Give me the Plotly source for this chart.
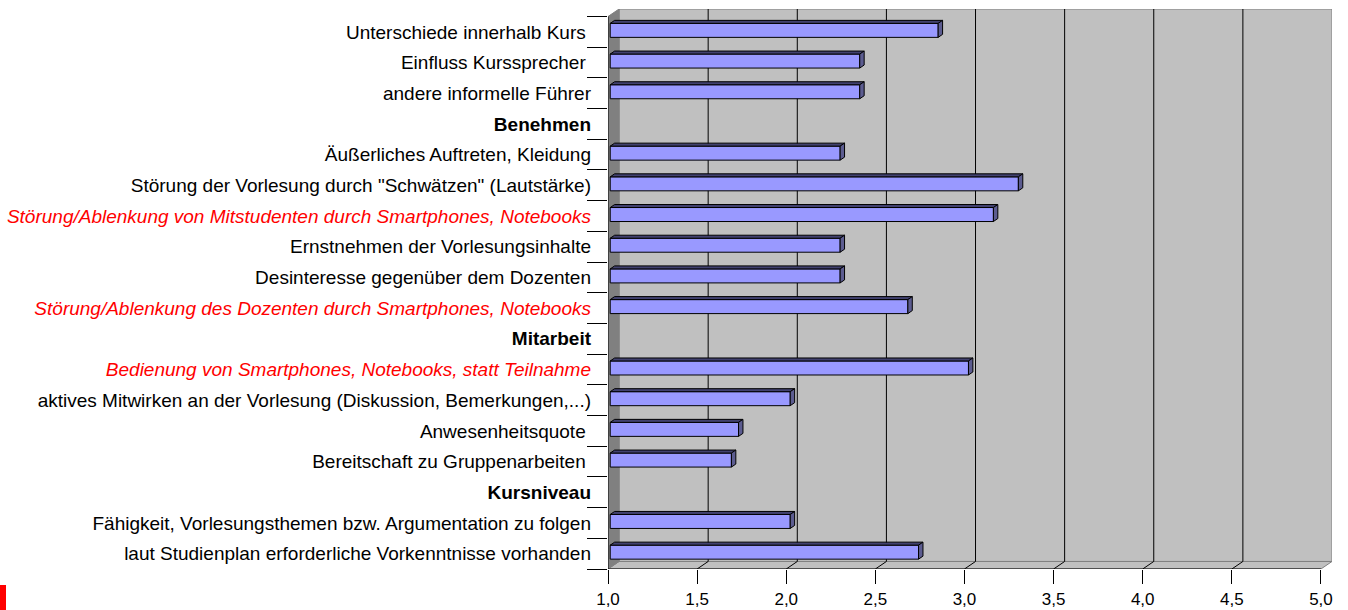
import plotly.graph_objects as go

# Category labels, top to bottom (section headings have no value)
categories = [
    "Unterschiede innerhalb Kurs\u00a0",
    "Einfluss Kurssprecher\u00a0",
    "andere informelle Führer",
    "Benehmen",
    "Äußerliches Auftreten, Kleidung",
    'Störung der Vorlesung durch "Schwätzen" (Lautstärke)',
    "Störung/Ablenkung von Mitstudenten durch Smartphones, Notebooks",
    "Ernstnehmen der Vorlesungsinhalte",
    "Desinteresse gegenüber dem Dozenten",
    "Störung/Ablenkung des Dozenten durch Smartphones, Notebooks",
    "Mitarbeit",
    "Bedienung von Smartphones, Notebooks, statt Teilnahme",
    "aktives Mitwirken an der Vorlesung (Diskussion, Bemerkungen,...)",
    "Anwesenheitsquote\u00a0",
    "Bereitschaft zu Gruppenarbeiten\u00a0",
    "Kursniveau",
    "Fähigkeit, Vorlesungsthemen bzw. Argumentation zu folgen",
    "laut Studienplan erforderliche Vorkenntnisse vorhanden",
]

# Mean rating per item (None for section headings)
values = [2.84, 2.40, 2.40, None, 2.29, 3.29, 3.15, 2.29, 2.29, 2.67,
          None, 3.01, 2.01, 1.72, 1.68, None, 2.01, 2.73]

# Label styling: "n" normal, "h" section heading, "r" highlighted item
label_kind = ["n", "n", "n", "h", "n", "n", "r", "n", "n", "r",
              "h", "r", "n", "n", "n", "h", "n", "n"]

x_ticks = [1.0, 1.5, 2.0, 2.5, 3.0, 3.5, 4.0, 4.5, 5.0]
x_ticktext = ["1,0", "1,5", "2,0", "2,5", "3,0", "3,5", "4,0", "4,5", "5,0"]

X_MIN, X_MAX = 1.0, 5.0
n = len(categories)
rows = [n - 1 - i for i in range(n)]          # top item gets highest row

# 3D depth offsets of the back wall, in axis units
DX = 0.062
DY = 0.245
BAR_F, BAR_B = 0.2, 0.6                        # bar front/back depth fractions
BAR_W = 0.456

FRONT = "#9999FF"
TOP = "#41416F"
SIDE = "#5C5C90"
WALL = "#C0C0C0"
SIDEWALL = "#808080"
EDGE = "#808080"


def fmt_label(text, kind):
    if kind == "h":
        return "<b>" + text + "</b>"
    if kind == "r":
        return "<i><span style='color:#FF0000'>" + text + "</span></i>"
    return text


ticktext = [fmt_label(c, k) for c, k in zip(categories, label_kind)]

y_lo, y_hi = -0.5, n - 0.5

shapes = []
# back wall
shapes.append(dict(type="rect", xref="x", yref="y", layer="below",
                   x0=X_MIN + DX, x1=X_MAX + DX, y0=y_lo + DY, y1=y_hi + DY,
                   fillcolor=WALL, line=dict(color=EDGE, width=1)))
# floor
shapes.append(dict(type="path", xref="x", yref="y", layer="below",
                   path=f"M {X_MIN},{y_lo} L {X_MAX},{y_lo} L {X_MAX + DX},{y_lo + DY} "
                        f"L {X_MIN + DX},{y_lo + DY} Z",
                   fillcolor=WALL, line=dict(color=EDGE, width=1)))
# left side wall
shapes.append(dict(type="path", xref="x", yref="y", layer="below",
                   path=f"M {X_MIN},{y_lo} L {X_MIN + DX},{y_lo + DY} L {X_MIN + DX},{y_hi + DY} "
                        f"L {X_MIN},{y_hi} Z",
                   fillcolor=SIDEWALL, line=dict(color=EDGE, width=1)))
# gridlines on the back wall and their continuation across the floor
for v in x_ticks[1:-1]:
    shapes.append(dict(type="line", xref="x", yref="y", layer="below",
                       x0=v + DX, x1=v + DX, y0=y_lo + DY, y1=y_hi + DY,
                       line=dict(color="#000000", width=1)))
    shapes.append(dict(type="line", xref="x", yref="y", layer="below",
                       x0=v, x1=v + DX, y0=y_lo, y1=y_lo + DY,
                       line=dict(color="#000000", width=1)))
# front axis edges
shapes.append(dict(type="line", xref="x", yref="y", layer="above",
                   x0=X_MIN, x1=X_MAX, y0=y_lo, y1=y_lo,
                   line=dict(color="#000000", width=1)))
shapes.append(dict(type="line", xref="x", yref="y", layer="above",
                   x0=X_MIN, x1=X_MIN, y0=y_lo, y1=y_hi,
                   line=dict(color="#000000", width=1)))
# small red marker at the lower left corner of the page
shapes.append(dict(type="rect", xref="paper", yref="paper", layer="above",
                   x0=-608 / 724, x1=-602 / 724, y0=-41 / 560, y1=-16 / 560,
                   fillcolor="#FF0000", line=dict(width=0)))

fig = go.Figure()

# bar front faces
bar_y, bar_len = [], []
for r, v in zip(rows, values):
    if v is None:
        continue
    bar_y.append(r + BAR_F * DY)
    bar_len.append(v - X_MIN)
fig.add_trace(go.Bar(
    orientation="h", y=bar_y, x=bar_len, base=X_MIN + BAR_F * DX,
    width=BAR_W, marker=dict(color=FRONT, line=dict(color="#000000", width=1)),
    showlegend=False, hoverinfo="skip",
))

# top and side faces of each bar
top_x, top_y, side_x, side_y = [], [], [], []
d_x = (BAR_B - BAR_F) * DX
d_y = (BAR_B - BAR_F) * DY
for r, v in zip(rows, values):
    if v is None:
        continue
    yc = r + BAR_F * DY
    yt, yb = yc + BAR_W / 2, yc - BAR_W / 2
    x0, x1 = X_MIN + BAR_F * DX, v + BAR_F * DX
    top_x += [x0, x1, x1 + d_x, x0 + d_x, x0, None]
    top_y += [yt, yt, yt + d_y, yt + d_y, yt, None]
    side_x += [x1, x1 + d_x, x1 + d_x, x1, x1, None]
    side_y += [yb, yb + d_y, yt + d_y, yt, yb, None]

fig.add_trace(go.Scatter(x=top_x, y=top_y, mode="lines", fill="toself",
                         fillcolor=TOP, line=dict(color="#000000", width=1),
                         showlegend=False, hoverinfo="skip"))
fig.add_trace(go.Scatter(x=side_x, y=side_y, mode="lines", fill="toself",
                         fillcolor=SIDE, line=dict(color="#000000", width=1),
                         showlegend=False, hoverinfo="skip"))

FONT = "Arial, 'Liberation Sans', sans-serif"

fig.update_layout(
    template="none",
    width=1348, height=610,
    margin=dict(l=608, r=16, t=9, b=41),
    paper_bgcolor="#FFFFFF", plot_bgcolor="#FFFFFF",
    font=dict(family=FONT, size=19, color="#000000"),
    shapes=shapes,
    xaxis=dict(
        range=[X_MIN, X_MAX + DX], tickmode="array", tickvals=x_ticks,
        ticktext=x_ticktext, ticks="outside", ticklen=14, tickcolor="#000000",
        ticklabelstandoff=1, automargin=False,
        showgrid=False, zeroline=False, showline=False,
        tickfont=dict(family=FONT, size=17, color="#000000"), fixedrange=True,
    ),
    yaxis=dict(
        range=[y_lo, y_hi + DY], tickmode="array", tickvals=rows,
        ticktext=ticktext, ticks="", ticklabelstandoff=16, automargin=False,
        showgrid=False, zeroline=False, showline=False,
        tickfont=dict(family=FONT, size=19, color="#000000"),
        minor=dict(tickmode="array", tickvals=[r - 0.5 for r in range(n + 1)],
                   ticks="outside", ticklen=20, tickcolor="#000000", tickwidth=1,
                   showgrid=False),
        fixedrange=True,
    ),
)

fig.write_html("out.html")
